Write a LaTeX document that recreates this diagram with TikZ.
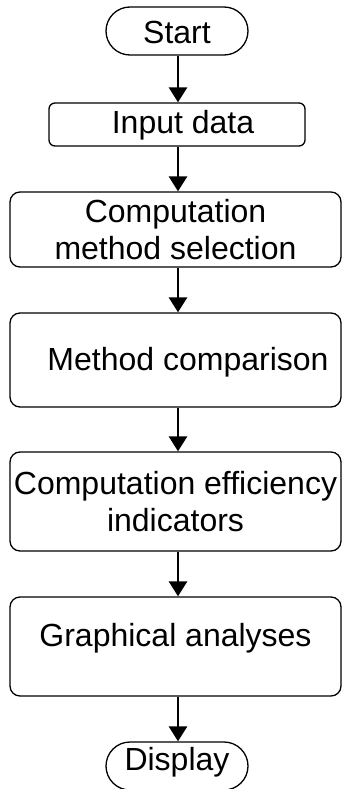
\documentclass[tikz,border=0pt]{standalone}
\usepackage{fontspec}
\setmainfont{Liberation Sans}
\usetikzlibrary{arrows.meta}
\begin{document}
\begin{tikzpicture}[x=1pt,y=-1pt,
  box/.style={draw, line width=1.3pt, inner sep=0pt, align=center,
    font=\fontsize{32}{37.5}\selectfont},
  bigbox/.style={box, rounded corners=10pt, minimum width=331pt},
  term/.style={box, rounded corners=24pt, minimum width=142pt, minimum height=48pt},
  flow/.style={line width=2.8pt, -{Triangle[width=18pt,length=15pt]}}]
\useasboundingbox (0,0) rectangle (342,789);
\node[term, text height=26pt, text depth=0pt] (start) at (177,31) {Start};
\node[box, rounded corners=6pt, minimum width=256pt, minimum height=43pt,
  text height=23pt, text depth=6pt] (input) at (177,124.5) {\hspace*{12pt}Input data};
\node[bigbox, minimum height=75pt] (comp) at (175.5,229.5) {Computation\\method selection};
\node[bigbox, minimum height=94pt, text height=23pt, text depth=3pt] (meth) at (175.5,360) {\hspace*{25pt}Method comparison};
\node[bigbox, minimum height=99pt] (eff) at (175.5,501.5) {Computation efficiency\\indicators};
\node[bigbox, minimum height=99pt, text height=23pt, text depth=24pt] (graph) at (175.5,646.5) {Graphical analyses};
\node[term, text height=23pt, text depth=15pt] (disp) at (177,766) {Display};
\draw[flow] (start.south -| 178,0) -- (input.north -| 178,0);
\draw[flow] (input.south -| 178,0) -- (comp.north -| 178,0);
\draw[flow] (comp.south -| 178,0) -- (meth.north -| 178,0);
\draw[flow] (meth.south -| 178,0) -- (eff.north -| 178,0);
\draw[flow] (eff.south -| 178,0) -- (graph.north -| 178,0);
\draw[flow] (graph.south -| 178,0) -- (disp.north -| 178,0);
\end{tikzpicture}
\end{document}
